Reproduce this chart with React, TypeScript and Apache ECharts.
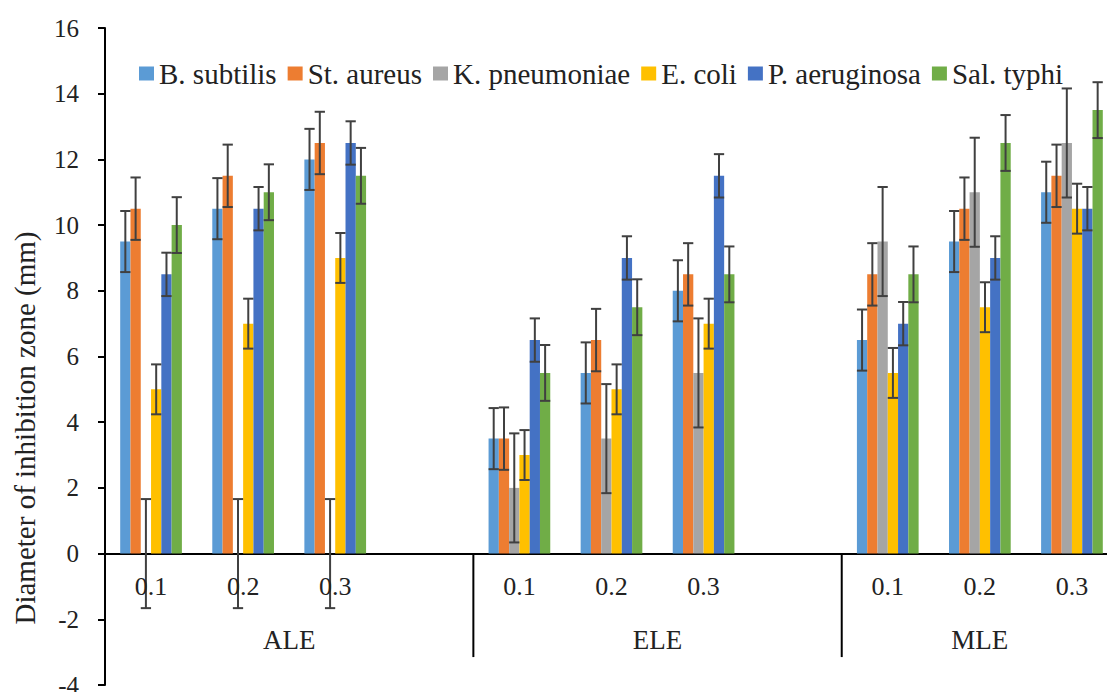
import React, { useEffect, useRef } from "react";
import * as echarts from "echarts";

const groups = ["ALE", "ELE", "MLE"];
const doses = ["0.1", "0.2", "0.3"];
const seriesNames = ["B. subtilis", "St. aureus", "K. pneumoniae", "E. coli", "P. aeruginosa", "Sal. typhi"];
const colors = ["#5B9BD5", "#ED7D31", "#A5A5A5", "#FFC000", "#4472C4", "#70AD47"];

// values in order ALE 0.1,0.2,0.3, ELE 0.1,0.2,0.3, MLE 0.1,0.2,0.3
const bSubtilis = [9.5, 10.5, 12, 3.5, 5.5, 8, 6.5, 9.5, 11];
const stAureus = [10.5, 11.5, 12.5, 3.5, 6.5, 8.5, 8.5, 10.5, 11.5];
const kPneumoniae = [0, 0, 0, 2, 3.5, 5.5, 9.5, 11, 12.5];
const eColi = [5, 7, 9, 3, 5, 7, 5.5, 7.5, 10.5];
const pAeruginosa = [8.5, 10.5, 12.5, 6.5, 9, 11.5, 7, 9, 10.5];
const salTyphi = [10, 11, 11.5, 5.5, 7.5, 8.5, 8.5, 12.5, 13.5];
const seriesValues = [bSubtilis, stAureus, kPneumoniae, eColi, pAeruginosa, salTyphi];
// error bar (+/-) per series
const errors = [0.93, 0.95, 1.66, 0.76, 0.66, 0.85];

const yTicks = { min: -4, max: 16, interval: 2 };

const FONT = "Liberation Serif";
const BAR_GAP = 0.33;

// build categories with a blank slot after each group except last
const categories: string[] = [];
const valueSlot: number[] = [];
const groupSpans: { name: string; start: number; end: number }[] = [];
groups.forEach((g, gi) => {
  const start = categories.length;
  doses.forEach((d) => {
    valueSlot.push(categories.length);
    categories.push(`${g}|${d}`);
  });
  if (gi < groups.length - 1) categories.push(`${g}|`);
  groupSpans.push({ name: g, start, end: categories.length });
});
const separators = groupSpans.slice(1).map((s) => s.start);

export default function App() {
  const ref = useRef<HTMLDivElement>(null);
  useEffect(() => {
    if (!ref.current) return;
    const chart = echarts.init(ref.current, null, { renderer: "svg" });

    const barSeries = seriesNames.map((name, si) => {
      const data: (number | null)[] = categories.map(() => null);
      seriesValues[si].forEach((v, k) => {
        data[valueSlot[k]] = v;
      });
      return {
        name,
        type: "bar",
        data,
        itemStyle: { color: colors[si] },
        barGap: "0%",
        barCategoryGap: `${BAR_GAP * 100}%`,
        z: 2,
      };
    });

    const errData: number[][] = [];
    seriesValues.forEach((vals, si) => {
      vals.forEach((v, k) => {
        errData.push([valueSlot[k], v, errors[si], si]);
      });
    });

    const n = seriesNames.length;
    const legendText = { fontFamily: FONT, fontSize: 29, color: "#222" };

    const option: any = {
      animation: false,
      textStyle: { fontFamily: FONT },
      grid: { left: 105, top: 28, width: 1013, bottom: 7, containLabel: false, outerBoundsMode: "none" },
      legend: {
        data: seriesNames,
        left: 134,
        top: 54,
        itemWidth: 15,
        itemHeight: 14,
        itemGap: 11,
        icon: "rect",
        textStyle: legendText,
      },
      xAxis: [
        {
          type: "category",
          data: categories,
          axisLine: { onZero: true, lineStyle: { color: "#000", width: 2 } },
          axisTick: { show: false },
          axisLabel: { show: false },
          splitLine: { show: false },
        },
        { type: "value", min: 0, max: categories.length, show: false },
      ],
      yAxis: {
        type: "value",
        min: yTicks.min,
        max: yTicks.max,
        interval: yTicks.interval,
        axisLine: { show: true, lineStyle: { color: "#000", width: 2 } },
        axisTick: { show: true, length: 7, lineStyle: { color: "#000", width: 2 } },
        axisLabel: { fontFamily: FONT, fontSize: 25, color: "#222", margin: 26 },
        splitLine: { show: false },
      },
      graphic: [
        {
          type: "text",
          x: 25,
          y: 428,
          rotation: Math.PI / 2,
          style: {
            text: "Diameter of inhibition zone (mm)",
            fontFamily: FONT,
            fontSize: 29,
            fill: "#222",
            align: "center",
            verticalAlign: "middle",
          },
        },
      ],
      series: [
        ...barSeries,
        {
          type: "custom",
          name: "errors",
          xAxisIndex: 0,
          yAxisIndex: 0,
          z: 5,
          encode: { x: 0, y: 1 },
          data: errData,
          renderItem: (params: any, api: any) => {
            const ci = api.value(0);
            const v = api.value(1);
            const e = api.value(2);
            const si = api.value(3);
            const slot = api.size([1, 0])[0];
            const bw = (slot * (1 - BAR_GAP)) / n;
            const cx = api.coord([ci, v])[0] + (si - (n - 1) / 2) * bw;
            const yTop = api.coord([ci, v + e])[1];
            const yBot = api.coord([ci, v - e])[1];
            const half = bw / 2;
            const style = { stroke: "#404040", lineWidth: 2 };
            return {
              type: "group",
              children: [
                { type: "line", shape: { x1: cx, y1: yTop, x2: cx, y2: yBot }, style },
                { type: "line", shape: { x1: cx - half, y1: yTop, x2: cx + half, y2: yTop }, style },
                { type: "line", shape: { x1: cx - half, y1: yBot, x2: cx + half, y2: yBot }, style },
              ],
            };
          },
        },
        {
          type: "custom",
          name: "doseLabels",
          xAxisIndex: 0,
          yAxisIndex: 0,
          z: 5,
          encode: { x: 0, y: 1 },
          data: valueSlot.map((s, k) => [s, 0, k % doses.length]),
          renderItem: (params: any, api: any) => {
            const p = api.coord([api.value(0), -1.0]);
            return {
              type: "text",
              x: p[0],
              y: p[1],
              style: {
                text: doses[api.value(2)],
                fontFamily: FONT,
                fontSize: 26,
                fill: "#222",
                align: "center",
                verticalAlign: "middle",
              },
            };
          },
        },
        {
          type: "custom",
          name: "separators",
          xAxisIndex: 1,
          yAxisIndex: 0,
          z: 5,
          encode: { x: 0, y: 1 },
          data: separators.map((s) => [s, 0]),
          renderItem: (params: any, api: any) => {
            const p0 = api.coord([api.value(0), 0]);
            const p1 = api.coord([api.value(0), -3.15]);
            return {
              type: "line",
              shape: { x1: p0[0], y1: p0[1], x2: p1[0], y2: p1[1] },
              style: { stroke: "#000", lineWidth: 2 },
            };
          },
        },
        {
          type: "custom",
          name: "groupLabels",
          xAxisIndex: 1,
          yAxisIndex: 0,
          z: 5,
          encode: { x: 0, y: 1 },
          data: groupSpans.map((g, i) => [(g.start + g.end) / 2, 0, i]),
          renderItem: (params: any, api: any) => {
            const p = api.coord([api.value(0), -2.62]);
            return {
              type: "text",
              x: p[0],
              y: p[1],
              style: {
                text: groups[api.value(2)],
                fontFamily: FONT,
                fontSize: 27,
                fill: "#222",
                align: "center",
                verticalAlign: "middle",
              },
            };
          },
        },
      ],
    };
    chart.setOption(option);
    return () => chart.dispose();
  }, []);
  return (
    <div
      ref={ref}
      style={{ position: "fixed", left: 0, top: 0, width: 1107, height: 692, background: "#fff" }}
    />
  );
}
